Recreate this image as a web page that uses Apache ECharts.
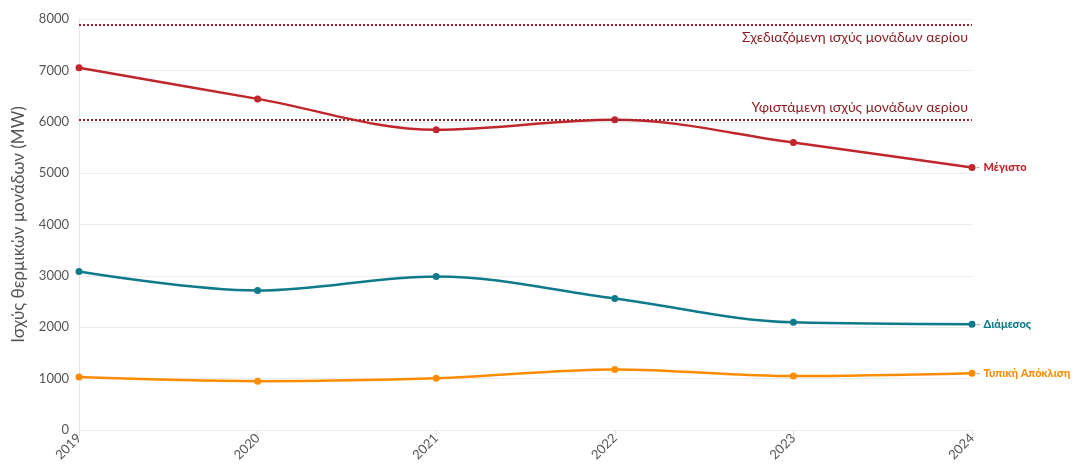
<!DOCTYPE html>
<html>
<head>
<meta charset="utf-8">
<script src="https://cdn.jsdelivr.net/npm/echarts@6/dist/echarts.min.js"></script>
<style>
    html, body { margin: 0; padding: 0; background: #fff; }
    #chart { width: 1075px; height: 465px; }
</style>
</head>
<body>
<div id="chart"></div>
<script>
// έτη
var years = ['2019', '2020', '2021', '2022', '2023', '2024'];
// σειρές (MW)
var maxValues = [7050, 6445, 5845, 6040, 5595, 5110];
var medianValues = [3085, 2715, 2990, 2560, 2095, 2060];
var stdValues = [1030, 950, 1005, 1180, 1050, 1105];
// οριζόντιες γραμμές αναφοράς
var plannedGas = 7890;
var existingGas = 6040;
var yTicks = [0, 8000, 1000]; // min, max, interval

var fontFamily = 'Lato, "Noto Sans", sans-serif';

function endLabel(name, color) {
    return {
        show: true,
        distance: 4,
        fontWeight: 'bold',
        formatter: '{d|-} {n|' + name + '}',
        rich: {
            d: { color: '#aaa', fontSize: 11, fontFamily: fontFamily },
            n: { color: color, fontSize: 11, fontWeight: 900, fontFamily: fontFamily }
        }
    };
}

function lineSeries(name, data, color) {
    return {
        name: name,
        type: 'line',
        data: data,
        smooth: 0.35,
        symbol: 'circle',
        symbolSize: 7,
        lineStyle: { width: 2.5, color: color },
        itemStyle: { color: color },
        endLabel: endLabel(name, color),
        z: 3
    };
}

var refColor = '#a3202a';
var refSeries = {
    type: 'line',
    data: [],
    silent: true,
    markLine: {
        symbol: 'none',
        silent: true,
        lineStyle: { color: refColor, type: [2, 2], width: 2 },
        data: [
            {
                yAxis: plannedGas,
                label: {
                    show: true, position: 'insideEndBottom', distance: [4, 6],
                    formatter: 'Σχεδιαζόμενη ισχύς μονάδων αερίου',
                    color: '#8b1a1f', fontSize: 14, fontFamily: fontFamily
                }
            },
            {
                yAxis: existingGas,
                label: {
                    show: true, position: 'insideEndTop', distance: [4, 5],
                    formatter: 'Υφιστάμενη ισχύς μονάδων αερίου',
                    color: '#8b1a1f', fontSize: 14, fontFamily: fontFamily
                }
            }
        ]
    }
};

var chart = echarts.init(document.getElementById('chart'));
chart.setOption({
    animation: false,
    grid: { left: 79, right: 103, top: 19, bottom: 35 },
    xAxis: {
        type: 'category',
        data: years,
        boundaryGap: false,
        axisLine: { show: false },
        axisTick: { show: true, length: 6, lineStyle: { color: '#e3e3e3' } },
        splitLine: { show: false },
        axisLabel: { rotate: 45, color: '#555', fontSize: 13, fontFamily: fontFamily, margin: 6 }
    },
    yAxis: {
        type: 'value',
        min: yTicks[0],
        max: yTicks[1],
        interval: yTicks[2],
        name: 'Ισχύς θερμικών μονάδων (MW)',
        nameLocation: 'middle',
        nameGap: 52,
        nameTextStyle: { color: '#555', fontSize: 17, fontFamily: fontFamily },
        axisLine: { show: true, lineStyle: { color: '#e6e6e6' } },
        axisTick: { show: false },
        splitLine: { lineStyle: { color: '#ececec' } },
        axisLabel: {
            color: '#555', fontSize: 13, fontFamily: fontFamily, margin: 10,
            formatter: function (v) { return String(v); }
        }
    },
    series: [
        refSeries,
        lineSeries('Μέγιστο', maxValues, '#c0272d'),
        lineSeries('Διάμεσος', medianValues, '#0f7b8a'),
        lineSeries('Τυπική Απόκλιση', stdValues, '#ff8c00')
    ]
});
</script>
</body>
</html>
